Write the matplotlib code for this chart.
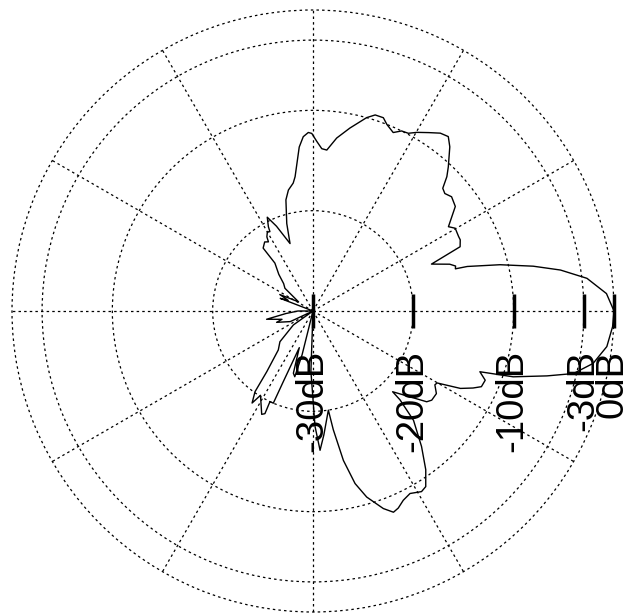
import matplotlib.pyplot as plt
import numpy as np

# antenna pattern, angle in degrees (ccw from the right) and gain in dB
angle_deg = [0, 3.4, 6.8, 9.4, 11.5, 13.9, 16.1, 16.5, 17.5, 18.9, 21.6, 23.6, 25.8,
             27.1, 30.2, 31.9, 34.9, 36.3, 39.5, 41.7, 43.4, 45.1, 46.8, 50.2, 52.2,
             54.4, 57.0, 59.8, 61.8, 63.8, 65.8, 68.4, 70.0, 72.4, 74.5, 78.6, 82.2,
             85.1, 86.9, 88.7, 90.4, 91.5, 93.2, 94.8, 97.6, 98.8, 101.5, 103.7, 106.7,
             108.8, 113.3, 116.0, 117.9, 118.5, 120.0, 121.9, 122.8, 125.0, 128.4, 128.5,
             133.0, 137.0, 141.0, 147.7, 153.6, 156.8, 158.9, 165.0, 180.0, 185.3, 190.1,
             195.0, 197.3, 205.0, 210.0, 215.4, 222.9, 228.3, 232.7, 234.3, 236.5, 238.1,
             243.6, 244.9, 244.6, 246.7, 247.2, 248.5, 249.5, 252.5, 254.5, 256.0, 260.0,
             268.0, 271.0, 272.9, 275.0, 278.8, 279.7, 281.5, 283.7, 286.1, 289.6, 291.8,
             293.4, 295.5, 298.0, 301.0, 302.7, 305.4, 308.7, 312.6, 314.4, 314.6, 321.4,
             323.1, 326.2, 328.8, 329.9, 332.3, 334.3, 335.8, 338.1, 340.0, 341.8, 344.5,
             346.5, 349.4, 353.1, 357.0, 360.0]
gain_db = [0.0, -0.7, -2.5, -5.0, -7.6, -10.8, -14.0, -15.2, -15.1, -15.6, -17.3, -14.0, -13.7,
           -13.7, -13.6, -14.1, -13.0, -12.4, -12.1, -12.4, -12.2, -11.1, -10.3, -8.7, -8.0,
           -8.2, -8.8, -9.4, -9.9, -10.0, -10.5, -10.0, -9.5, -9.5, -10.0, -11.4, -12.6,
           -13.9, -13.8, -13.1, -12.3, -12.2, -12.6, -13.6, -16.5, -17.1, -17.7, -18.6, -20.9,
           -22.9, -20.8, -19.6, -20.5, -21.0, -20.9, -21.3, -21.8, -21.6, -22.0, -23.9,
           -25.0, -26.0, -26.4, -28.3, -26.3, -27.3, -26.5, -30.0, -28.5, -27.3, -25.3,
           -26.8, -26.2, -27.5, -30.0, -27.6, -25.5, -24.8, -22.4, -20.1, -19.0, -20.1,
           -18.5, -18.7, -20.0, -20.0, -22.4, -25.1, -26.1, -23.5, -23.2, -25.5, -30.0,
           -24.0, -18.5, -16.1, -17.6, -20.0, -18.0, -14.8, -12.3, -10.7, -9.1, -8.4,
           -8.6, -9.1, -9.4, -9.0, -9.2, -10.6, -12.7, -15.2, -17.6, -18.7, -15.5,
           -15.2, -15.2, -15.8, -15.7, -13.4, -12.3, -11.6, -11.5, -12.3, -9.0, -5.8,
           -3.3, -1.6, -0.5, -0.1, 0.0]

ring_db = [-20, -10, -3, 0]
tick_db = [-30, -20, -10, -3, 0]
tick_labels = ['-30dB', '-20dB', '-10dB', '-3dB', '0dB']

fig = plt.figure(figsize=(6.27, 6.14), dpi=100)
ax = fig.add_axes([12 / 627, 2 / 614, 602 / 627, 602 / 614], projection='polar')

ax.plot(np.radians(angle_deg), gain_db, color='black', linewidth=1.0, clip_on=False)

ax.set_ylim(-30, 0)
ax.set_rgrids(ring_db, labels=[''] * len(ring_db))
ax.set_thetagrids(range(0, 360, 30), labels=[''] * 12)
ax.grid(True, color='black', linestyle=(0, (2, 2.5)), linewidth=0.9)
for gl in ax.yaxis.get_gridlines() + ax.xaxis.get_gridlines():
    gl.set_clip_on(False)
ax.spines['polar'].set_visible(False)
ax.tick_params(length=0)

# scale marks and labels along the 0 degree axis
ax.plot(np.zeros(len(tick_db)), tick_db, linestyle='none', marker='|', markersize=25,
        markeredgewidth=2.5, color='black', clip_on=False)
for r, lab in zip(tick_db, tick_labels):
    ax.annotate(lab, xy=(0, r), xytext=(-1, -39), textcoords='offset pixels',
                rotation=90, ha='center', va='top', fontsize=27.5,
                family='Liberation Sans', annotation_clip=False)

plt.savefig('out.png', dpi=100)
